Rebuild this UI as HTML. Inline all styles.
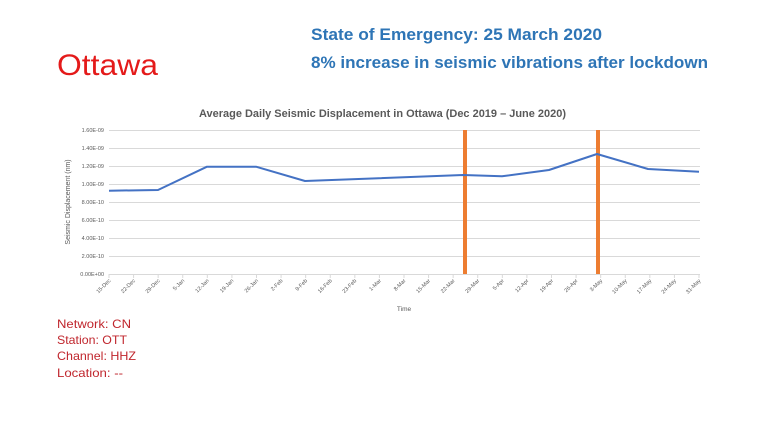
<!DOCTYPE html>
<html><head><meta charset="utf-8"><style>
html,body{margin:0;padding:0;background:#fff;}
svg{display:block;font-family:"Liberation Sans",sans-serif;}
</style></head><body>
<svg width="760" height="427" viewBox="0 0 760 427" xmlns="http://www.w3.org/2000/svg">
<rect width="760" height="427" fill="#fff"/>
<text x="57" y="75" font-size="30" fill="#e41a1a" textLength="101" lengthAdjust="spacingAndGlyphs">Ottawa</text>
<text x="311" y="40" font-size="17" font-weight="bold" fill="#2e75b6" textLength="291" lengthAdjust="spacingAndGlyphs">State of Emergency: 25 March 2020</text>
<text x="311" y="68" font-size="17" font-weight="bold" fill="#2e75b6" textLength="397" lengthAdjust="spacingAndGlyphs">8% increase in seismic vibrations after lockdown</text>
<text x="199" y="117" font-size="11" font-weight="bold" fill="#595959" textLength="367" lengthAdjust="spacingAndGlyphs">Average Daily Seismic Displacement in Ottawa (Dec 2019 – June 2020)</text>
<g stroke="#d9d9d9" stroke-width="1">
<line x1="109" x2="700" y1="130.5" y2="130.5"/><line x1="109" x2="700" y1="148.5" y2="148.5"/>
<line x1="109" x2="700" y1="166.5" y2="166.5"/><line x1="109" x2="700" y1="184.5" y2="184.5"/>
<line x1="109" x2="700" y1="202.5" y2="202.5"/><line x1="109" x2="700" y1="220.5" y2="220.5"/>
<line x1="109" x2="700" y1="238.5" y2="238.5"/><line x1="109" x2="700" y1="256.5" y2="256.5"/>
<line x1="109" x2="700" y1="274.5" y2="274.5"/>
</g>
<g font-size="5.5" fill="#595959" text-anchor="end">
<text x="104" y="132">1.60E-09</text><text x="104" y="150">1.40E-09</text><text x="104" y="168">1.20E-09</text>
<text x="104" y="186">1.00E-09</text><text x="104" y="204">8.00E-10</text><text x="104" y="222">6.00E-10</text>
<text x="104" y="240">4.00E-10</text><text x="104" y="258">2.00E-10</text><text x="104" y="276">0.00E+00</text>
</g>
<text transform="translate(70,202) rotate(-90)" font-size="7" fill="#595959" text-anchor="middle">Seismic Displacement (nm)</text>
<text x="404" y="311" font-size="6.5" fill="#595959" text-anchor="middle">Time</text>
<g id="ticks" stroke="#d9d9d9"></g>
<g id="xl" font-size="5.5" fill="#595959" text-anchor="end"></g>
<line x1="465" x2="465" y1="130" y2="274" stroke="#ed7d31" stroke-width="4"/>
<line x1="598" x2="598" y1="130" y2="274" stroke="#ed7d31" stroke-width="4"/>
<polyline fill="none" stroke="#4472c4" stroke-width="2" stroke-linejoin="round" points="109,190.7 158,190 207,166.7 256,166.7 305,181 463,175 502,176.3 549,170 597,154 648,169 699,171.7"/>
<g font-size="12" fill="#c0262d">
<text x="57" y="328" textLength="74" lengthAdjust="spacingAndGlyphs">Network: CN</text>
<text x="57" y="344" textLength="70" lengthAdjust="spacingAndGlyphs">Station: OTT</text>
<text x="57" y="360" textLength="79" lengthAdjust="spacingAndGlyphs">Channel: HHZ</text>
<text x="57" y="377" textLength="66" lengthAdjust="spacingAndGlyphs">Location: --</text>
</g>
<script>
var labs=["15-Dec","22-Dec","29-Dec","5-Jan","12-Jan","19-Jan","26-Jan","2-Feb","9-Feb","16-Feb","23-Feb","1-Mar","8-Mar","15-Mar","22-Mar","29-Mar","5-Apr","12-Apr","19-Apr","26-Apr","3-May","10-May","17-May","24-May","31-May"];
var t=document.getElementById("ticks"),g=document.getElementById("xl"),ns="http://www.w3.org/2000/svg";
for(var i=0;i<25;i++){var x=109+i*590/24;
var l=document.createElementNS(ns,"line");l.setAttribute("x1",x);l.setAttribute("x2",x);l.setAttribute("y1",274);l.setAttribute("y2",278);t.appendChild(l);
var s=document.createElementNS(ns,"text");s.setAttribute("transform","translate("+(x+2)+",281) rotate(-45)");s.textContent=labs[i];g.appendChild(s);}
</script>
</svg>
</body></html>
